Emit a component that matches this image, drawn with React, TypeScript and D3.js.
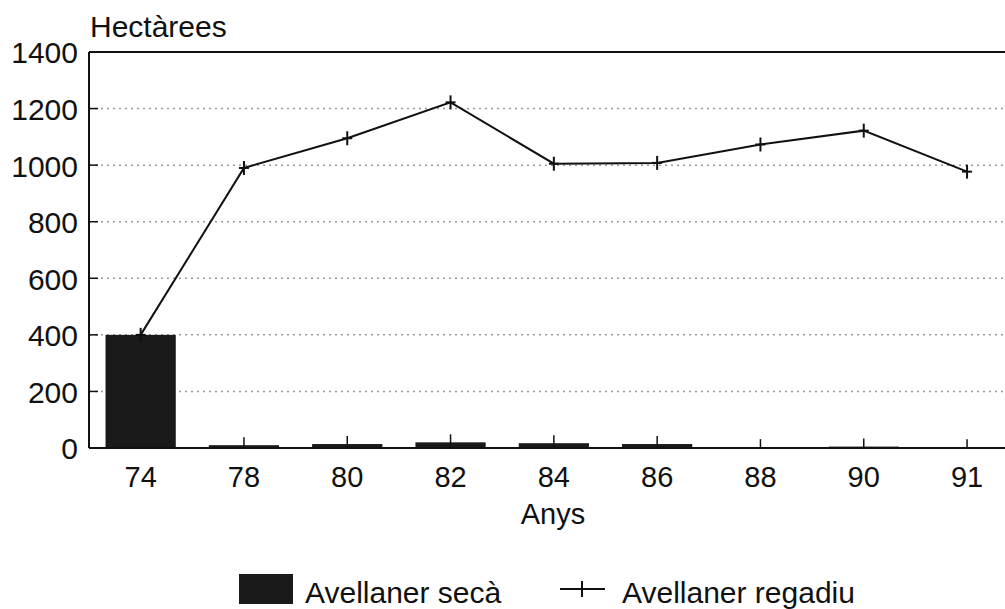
import * as d3 from "d3";
import React from "react";

const years = ["74", "78", "80", "82", "84", "86", "88", "90", "91"];
const secaValues = [400, 10, 14, 20, 17, 14, 3, 5, 3];
const regadiuValues = [400, 990, 1095, 1222, 1005, 1008, 1073, 1122, 977];
const yTicks = [0, 200, 400, 600, 800, 1000, 1200, 1400];

const W = 1005;
const H = 609;
const marginLeft = 89;
const marginTop = 52;
const plotBottom = 448;
const font = "'Liberation Sans', Arial, sans-serif";

function App() {
  const x = d3
    .scaleBand()
    .domain(years)
    .range([marginLeft, marginLeft + 103.3 * years.length])
    .paddingInner(0.32)
    .paddingOuter(0.16);
  const y = d3.scaleLinear().domain([0, 1400]).range([plotBottom, marginTop]);

  const cx = (d: string) => (x(d) as number) + x.bandwidth() / 2;
  const line = d3
    .line<number>()
    .x((_, i) => cx(years[i]))
    .y((d) => y(d));

  return (
    <svg
      width={W}
      height={H}
      style={{ position: "absolute", left: 0, top: 0, background: "#fff" }}
      fontFamily={font}
    >
      {/* grid */}
      {yTicks
        .filter((t) => t > 0 && t < 1400)
        .map((t) => (
          <line
            key={t}
            x1={marginLeft}
            x2={W}
            y1={y(t)}
            y2={y(t)}
            stroke="#999"
            strokeWidth={1.5}
            strokeDasharray="2,4"
          />
        ))}
      {/* top line */}
      <line x1={marginLeft} x2={W} y1={y(1400)} y2={y(1400)} stroke="#111" strokeWidth={2} />
      {/* y axis */}
      <line x1={marginLeft} x2={marginLeft} y1={y(1400)} y2={y(0)} stroke="#111" strokeWidth={2} />
      {yTicks.map((t) => (
        <g key={t}>
          <line x1={marginLeft} x2={marginLeft + 9} y1={y(t)} y2={y(t)} stroke="#111" strokeWidth={1.5} />
          <text x={78} y={y(t)} dy="0.38em" textAnchor="end" fontSize={30} fill="#111">
            {t}
          </text>
        </g>
      ))}
      <text x={90} y={37} fontSize={30} fill="#111">
        Hectàrees
      </text>

      {/* bars */}
      {years.map((yr, i) => (
        <rect
          key={yr}
          x={x(yr)}
          y={y(secaValues[i])}
          width={x.bandwidth()}
          height={y(0) - y(secaValues[i])}
          fill="#1a1a1a"
        />
      ))}

      {/* x axis */}
      <line x1={marginLeft} x2={W} y1={y(0)} y2={y(0)} stroke="#111" strokeWidth={2} />
      {years.map((yr) => (
        <text key={yr} x={cx(yr)} y={487} textAnchor="middle" fontSize={29} fill="#111">
          {yr}
        </text>
      ))}
      <text x={553} y={524} textAnchor="middle" fontSize={29} fill="#111">
        Anys
      </text>

      {/* line */}
      <path d={line(regadiuValues) as string} fill="none" stroke="#111" strokeWidth={2} />
      {regadiuValues.map((v, i) => (
        <g key={i} stroke="#111" strokeWidth={2}>
          <line x1={cx(years[i]) - 5} x2={cx(years[i]) + 5} y1={y(v)} y2={y(v)} />
          <line x1={cx(years[i])} x2={cx(years[i])} y1={y(v) - 7} y2={y(v) + 7} />
        </g>
      ))}
      {years.slice(1).map((yr, i) => (
        <line
          key={yr}
          x1={cx(yr)}
          x2={cx(yr)}
          y1={y(secaValues[i + 1]) - 8}
          y2={y(0)}
          stroke="#111"
          strokeWidth={1.5}
        />
      ))}

      {/* legend */}
      <rect x={239} y={574} width={54} height={30} fill="#1a1a1a" />
      <text x={305} y={603} fontSize={30} fill="#111">
        Avellaner secà
      </text>
      <line x1={560} x2={605} y1={589} y2={589} stroke="#111" strokeWidth={2} />
      <line x1={582} x2={582} y1={581} y2={597} stroke="#111" strokeWidth={2} />
      <text x={622} y={603} fontSize={30} fill="#111">
        Avellaner regadiu
      </text>
    </svg>
  );
}

export default App;
